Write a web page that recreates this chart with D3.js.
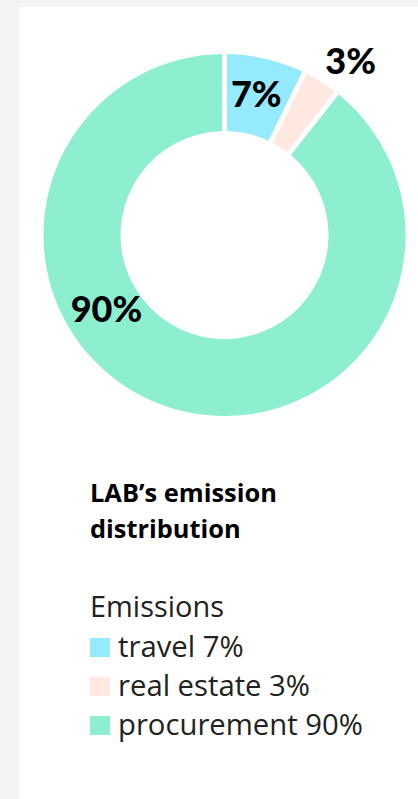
<!DOCTYPE html>
<html>
<head>
<meta charset="utf-8">
<script src="https://cdn.jsdelivr.net/npm/d3@7"></script>
<style>
  html, body { margin: 0; padding: 0; background: #f4f4f4; }
  svg { display: block; }
</style>
</head>
<body>
<svg id="chart" width="418" height="799"></svg>
<script>
const categories = ["travel", "real estate", "procurement"];
const values = [7, 3, 90];
const valueLabels = ["7%", "3%", "90%"];
const colors = ["#95ebfb", "#ffe8df", "#8eefd0"];
const titleLines = ["LAB\u2019s emission", "distribution"];
const legendTitle = "Emissions";

const svg = d3.select("#chart");
const W = 418, H = 799;
const FONT = "'Open Sans', sans-serif";

// size text so its width matches a target width
function fitSize(str, weight, target) {
  const t = svg.append("text").attr("font-family", FONT).attr("font-weight", weight)
    .attr("font-size", 100).text(str);
  const w = t.node().getComputedTextLength();
  t.remove();
  return 100 * target / w;
}

// card
svg.append("rect").attr("x", 19).attr("y", 7).attr("width", W - 19).attr("height", H - 7).attr("fill", "#ffffff");

const cx = 224.5, cy = 235, outerR = 181, innerR = 104;
const g = svg.append("g").attr("transform", `translate(${cx},${cy})`);

const pie = d3.pie().sort(null).value(d => d.value).padAngle(0.024);
const data = categories.map((c, i) => ({ cat: c, value: values[i], label: valueLabels[i], color: colors[i] }));
const arcs = pie(data);
const arc = d3.arc().innerRadius(innerR).outerRadius(outerR);

g.selectAll("path").data(arcs).join("path")
  .attr("d", arc)
  .attr("fill", d => d.data.color);

// label placement (angle offset from slice mid-angle in rad, radius)
const labelLayout = [
  { dA: -0.01, r: 146 },
  { dA: 0.06, r: 216 },
  { dA: 0.68, r: 139 }
];
g.selectAll("text.pct").data(arcs).join("text")
  .attr("class", "pct")
  .each(function(d, i) {
    const a = (d.startAngle + d.endAngle) / 2 + labelLayout[i].dA;
    const r = labelLayout[i].r;
    d3.select(this)
      .attr("x", Math.sin(a) * r)
      .attr("y", -Math.cos(a) * r);
  })
  .attr("text-anchor", "middle")
  .attr("dominant-baseline", "central")
  .attr("font-family", "Lato, sans-serif")
  .attr("font-weight", 900)
  .attr("font-size", 36)
  .attr("fill", "#000")
  .text(d => d.data.label);

// title
const titleSize = fitSize(titleLines[0], 700, 187);
const title = svg.append("text")
  .attr("x", 90).attr("y", 502)
  .attr("font-family", FONT)
  .attr("font-weight", 700)
  .attr("font-size", titleSize)
  .attr("fill", "#000");
titleLines.forEach((t, i) => {
  title.append("tspan").attr("x", 90).attr("dy", i === 0 ? 0 : 36).text(t);
});

// legend
const legSize = fitSize(`${categories[2]} ${values[2]}%`, 400, 245);
svg.append("text")
  .attr("x", 90).attr("y", 617)
  .attr("font-family", FONT)
  .attr("font-size", fitSize(legendTitle, 400, 134))
  .attr("fill", "#222")
  .text(legendTitle);

const leg = svg.append("g");
const items = leg.selectAll("g").data(data).join("g")
  .attr("transform", (d, i) => `translate(90, ${657 + i * 39})`);
items.append("rect")
  .attr("x", 0).attr("y", -19).attr("width", 20).attr("height", 19)
  .attr("fill", d => d.color);
items.append("text")
  .attr("x", 28).attr("y", 0)
  .attr("font-family", FONT)
  .attr("font-size", legSize)
  .attr("fill", "#222")
  .text(d => `${d.cat} ${d.value}%`);
</script>
</body>
</html>
